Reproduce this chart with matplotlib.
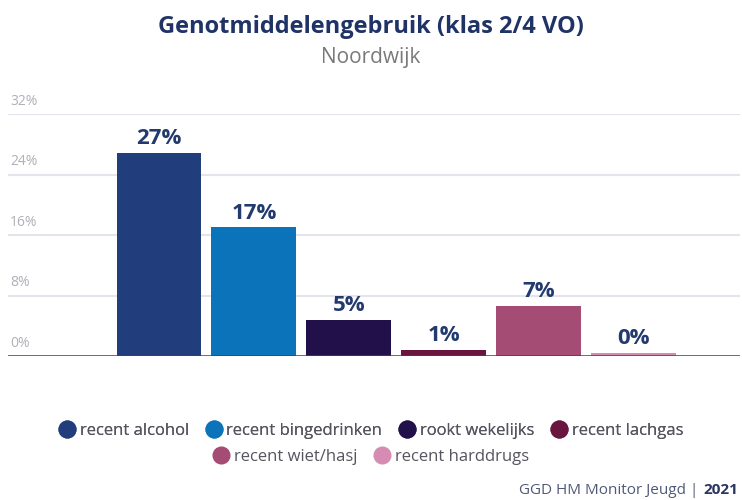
import matplotlib
matplotlib.use("Agg")
import matplotlib.pyplot as plt
from matplotlib.lines import Line2D

categories = ["recent alcohol", "recent bingedrinken", "rookt wekelijks",
              "recent lachgas", "recent wiet/hasj", "recent harddrugs"]
values = [26.9, 17.0, 4.8, 0.8, 6.6, 0.4]
colors = ["#213d7c", "#0b73b9", "#22104a", "#6a1440", "#a44c74", "#d68cb2"]
yticks = [0, 8, 16, 24, 32]
ytick_labels = ["0%", "8%", "16%", "24%", "32%"]

plt.rcParams['font.family'] = ['Open Sans', 'DejaVu Sans']

fig = plt.figure(figsize=(7.42, 5.0), dpi=100)
ax = fig.add_axes([8/742, 144/500, 732/742, 242/500])

x = list(range(len(categories)))
ax.bar(x, values, width=0.895, color=colors, zorder=3)
for xi, v in zip(x, values):
    ax.text(xi, v + 0.5, f"{round(v)}%", ha="center", va="bottom",
            fontsize=16, fontweight="bold", color="#223a6e", zorder=4)

ax.set_xlim(-1.591, 6.122)
ax.set_ylim(0, 32)
ax.set_yticks(yticks)
ax.set_yticklabels([])
ax.tick_params(left=False, bottom=False, labelbottom=False)
for t in yticks:
    if t == 0:
        continue
    ax.axhline(t, color="#e4e4ee", lw=1.5, zorder=1)
for t, lab in zip(yticks, ytick_labels):
    ax.text(0.003, t + 0.7, lab, transform=ax.get_yaxis_transform(),
            ha="left", va="bottom", fontsize=10, color="#b0b0b8")
ax.axhline(0, color="#2c4383", lw=1.8, zorder=5)
for s in ax.spines.values():
    s.set_visible(False)

fig.text(0.5, 1 - 27/500, "Genotmiddelengebruik (klas 2/4 VO)", ha="center", va="center",
         fontsize=17, fontweight="bold", color="#1f3366")
fig.text(0.5, 1 - 58/500, "Noordwijk", ha="center", va="center",
         fontsize=15, color="#7a7a7a")

handles = [Line2D([0], [0], marker="o", linestyle="", markersize=12,
                  markerfacecolor=c, markeredgecolor=c) for c in colors]
kw = dict(loc="center", frameon=False, fontsize=12, handletextpad=0.25,
          columnspacing=1.0, handlelength=1.0)
leg1 = fig.legend(handles[:4], categories[:4], ncol=4,
                  bbox_to_anchor=(0.5, 1 - 431/500), **kw)
leg2 = fig.legend(handles[4:], categories[4:], ncol=2,
                  bbox_to_anchor=(0.5, 1 - 457/500), **kw)
for lg in (leg1, leg2):
    for t in lg.get_texts():
        t.set_color("#555560")
fig.add_artist(leg1)

t1 = fig.text(1 - 4/742, 1 - 490/500, "2021", ha="right", va="center",
              fontsize=11, fontweight="bold", color="#2a3560")
fig.canvas.draw()
bb = t1.get_window_extent()
fig.text(bb.x0 - 1, bb.y0 + bb.height/2, "GGD HM Monitor Jeugd | ", ha="right", va="center",
         fontsize=11, color="#505878", transform=None)

fig.savefig("out.png", dpi=100)
